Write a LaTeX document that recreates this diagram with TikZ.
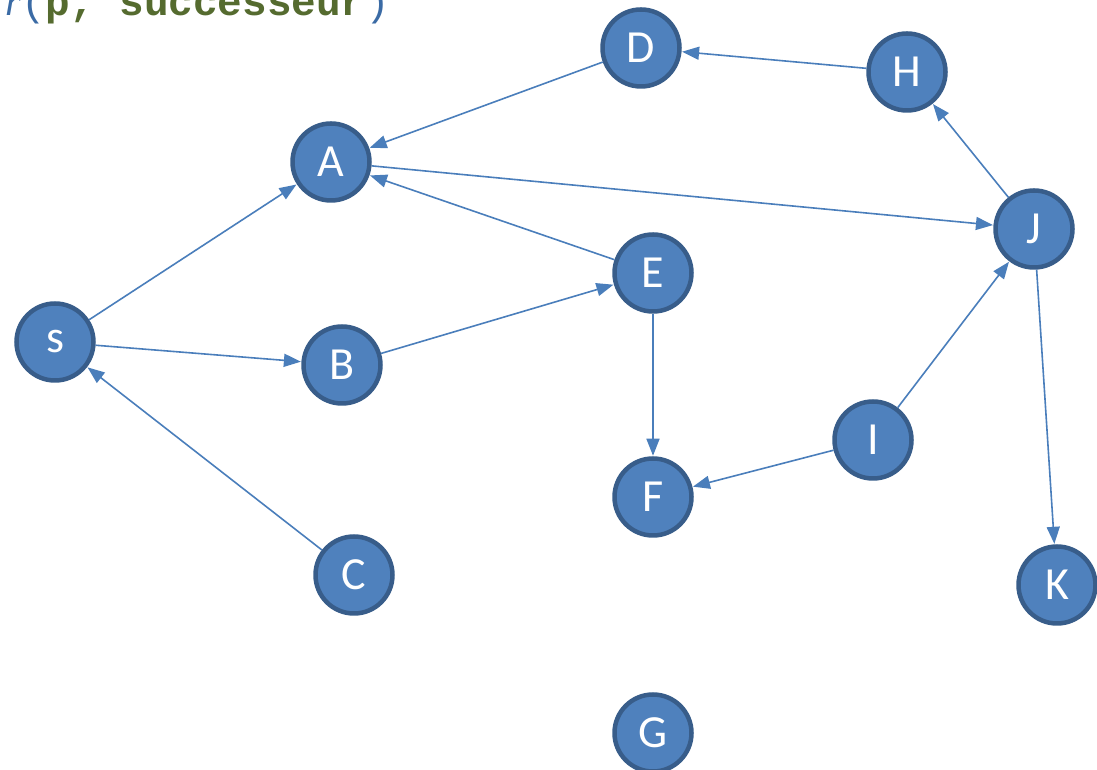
\documentclass[tikz,border=0pt]{standalone}
\usepackage{fontspec}
\setmainfont{Carlito}
\newfontfamily\codefont{Liberation Mono}
\newfontfamily\serifit{Liberation Serif}
\usetikzlibrary{arrows.meta}
\definecolor{nodefill}{RGB}{79,129,189}
\definecolor{nodeborder}{RGB}{56,93,138}
\definecolor{edgecol}{RGB}{74,126,187}
\definecolor{codeblue}{RGB}{59,107,165}
\definecolor{codegreen}{RGB}{85,107,47}
\tikzset{
  vert/.style={circle, fill=nodefill, draw=nodeborder, line width=4.5pt, minimum size=77pt, inner sep=0pt, text=white, font=\fontsize{46}{46}\selectfont},
  edge/.style={draw=edgecol, line width=1.6pt, -{Triangle[length=17pt,width=13pt]}, shorten >=0.5pt}
}
\begin{document}
\begin{tikzpicture}[x=1pt,y=1pt]
\useasboundingbox (0,0) rectangle (1097,770);
\clip (0,0) rectangle (1097,770);
\node[anchor=base west, inner sep=0pt, font=\fontsize{41}{41}\selectfont] (code) at (5,754)
  {{\serifit\itshape\color{codeblue}r}{\codefont\color{codeblue}(}{\codefont\bfseries\color{codegreen}p, successeur}{\codefont\color{codeblue})}};
\node[vert] (s) at (55,428) {s};
\node[vert] (A) at (331,608) {A};
\node[vert] (B) at (342,405) {B};
\node[vert] (C) at (354,195) {C};
\node[vert] (D) at (641,722) {D};
\node[vert] (E) at (653,497) {E};
\node[vert] (F) at (653,273) {F};
\node[vert] (G) at (653,37) {G};
\node[vert] (H) at (907,698) {H};
\node[vert] (I) at (873,330) {I};
\node[vert] (J) at (1034,541) {J};
\node[vert] (K) at (1057,185) {K};
\draw[edge] (s) -- (A);
\draw[edge] (s) -- (B);
\draw[edge] (C) -- (s);
\draw[edge] (D) -- (A);
\draw[edge] (E) -- (A);
\draw[edge] (A) -- (J);
\draw[edge] (B) -- (E);
\draw[edge] (E) -- (F);
\draw[edge] (I) -- (F);
\draw[edge] (I) -- (J);
\draw[edge] (J) -- (H);
\draw[edge] (H) -- (D);
\draw[edge] (J) -- (K);
\end{tikzpicture}
\end{document}
